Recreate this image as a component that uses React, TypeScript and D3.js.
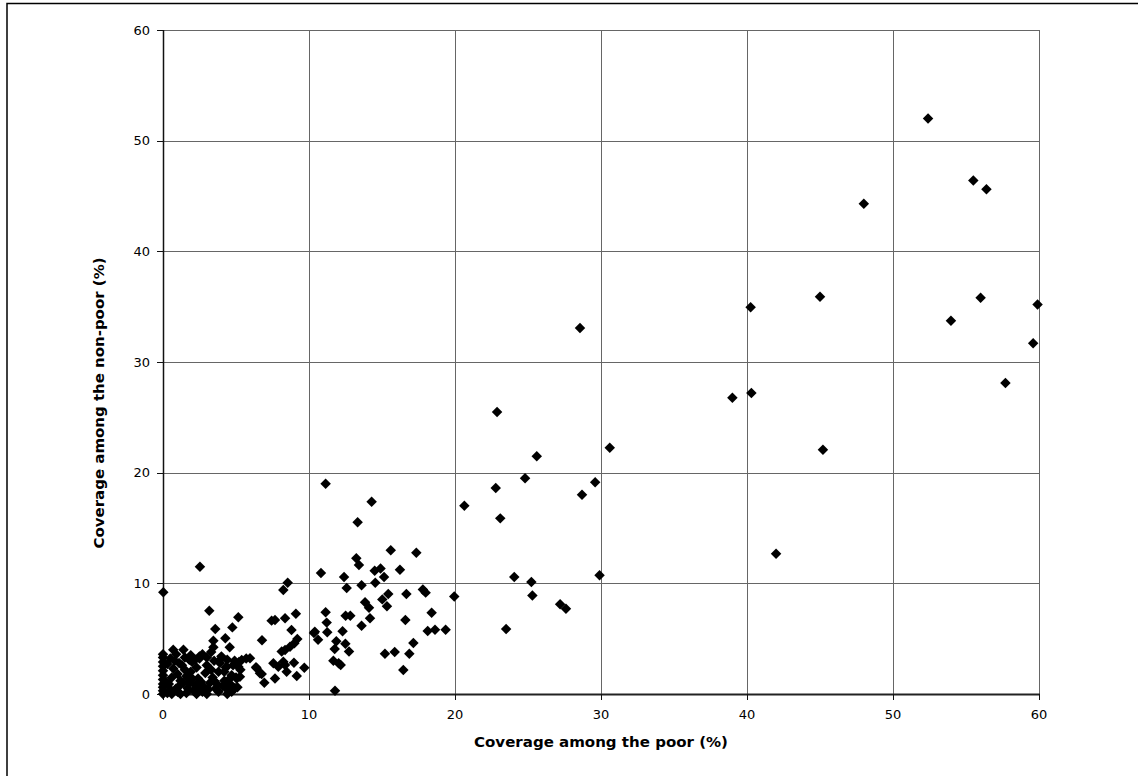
import React from "react";
import * as d3 from "d3";

const xTicks = [0, 10, 20, 30, 40, 50, 60];
const yTicks = [0, 10, 20, 30, 40, 50, 60];

// Coverage among the poor (%)
const poor = [
  52.4, 55.5, 56.4, 48.0, 45.0, 40.25, 56.0, 59.9, 53.97, 59.6, 57.7, 39.0, 40.3, 45.2,
  28.56, 30.6, 29.6, 28.7, 41.99, 29.9, 22.88, 25.6, 24.8, 22.79, 20.64, 23.1, 24.06, 25.23,
  25.3, 27.2, 27.6, 23.5, 19.95,
  11.14, 14.29, 13.33, 15.6, 17.35, 13.24, 13.42, 10.82, 14.9, 14.5, 16.23, 12.4, 15.14,
  12.58, 13.6, 14.54, 16.67, 17.8, 17.99, 15.43, 15.02, 15.34, 13.84, 14.11, 12.51, 12.83,
  11.14, 14.18, 13.6, 11.21, 11.25, 12.3, 10.34, 10.62, 11.87, 12.49, 11.76, 12.74, 11.67,
  12.03, 12.17, 16.6, 18.4, 18.13, 18.63, 19.36, 17.15, 16.87, 15.87, 15.2, 16.46, 11.78,
  10.4,
  8.54, 8.24, 9.1, 8.8, 9.2, 8.97, 9.68, 9.16, 2.53, 0.02, 3.17, 5.16, 3.58, 4.75, 3.45,
  4.27, 3.45, 4.57, 6.78, 7.44, 7.67, 8.36, 9.0, 8.7, 8.36, 8.13, 4.93, 5.39, 5.96, 5.16,
  6.42, 6.64, 6.94, 7.67, 7.56, 7.9, 8.24, 8.47, 8.36, 4.93, 5.05, 6.37, 6.76, 4.25, 5.7,
  4.36, 5.27, 4.59,
  0, 0, 0, 0, 0, 0, 0, 0, 0, 0, 0,
  0.3, 0.5, 0.4, 0.6, 0.7, 0.8, 0.7, 0.9, 1.0, 1.1, 1.2, 1.0, 1.3, 1.5, 1.6, 1.7, 1.8, 1.6,
  1.9, 2.0, 2.1, 2.2, 2.4, 2.3, 2.5, 2.7, 2.8, 2.6, 2.9, 3.0, 3.1, 3.2, 3.4, 3.3, 3.5, 3.6,
  3.7, 3.8, 3.9, 4.0, 4.1, 4.2, 4.3, 4.4, 4.5, 4.6, 4.7, 4.8, 4.9, 5.0, 5.2, 5.3, 1.4, 1.9,
  2.7, 3.3, 0.2, 0.3, 1.5, 2.0, 2.3, 1.2, 0.6, 3.0, 3.8, 4.4, 4.8, 5.1, 0.9, 1.4, 2.5, 3.5,
  4.2, 3.0, 2.2, 1.1, 1.8, 0.5, 2.5, 4.0, 4.7,
];

// Coverage among the non-poor (%)
const nonPoor = [
  52.0, 46.4, 45.6, 44.3, 35.9, 34.94, 35.8, 35.2, 33.73, 31.7, 28.1, 26.77, 27.2, 22.08,
  33.07, 22.26, 19.13, 18.0, 12.68, 10.72, 25.48, 21.48, 19.49, 18.61, 17.02, 15.87, 10.57, 10.12,
  8.9, 8.1, 7.7, 5.87, 8.82,
  19.0, 17.38, 15.51, 12.98, 12.77, 12.26, 11.66, 10.93, 11.35, 11.14, 11.23, 10.57, 10.57,
  9.58, 9.82, 10.06, 9.04, 9.45, 9.16, 9.04, 8.55, 7.92, 8.28, 7.8, 7.08, 7.08,
  7.38, 6.84, 6.17, 6.45, 5.57, 5.66, 5.51, 4.91, 4.76, 4.55, 4.07, 3.83, 3.01,
  2.77, 2.62, 6.69, 7.35, 5.69, 5.81, 5.81, 4.6, 3.64, 3.79, 3.64, 2.17, 0.3,
  5.63,
  10.06, 9.4, 7.26, 5.78, 4.97, 2.83, 2.38, 1.63, 11.5, 9.19, 7.53, 6.93, 5.87, 6.02, 4.82,
  5.03, 4.22, 4.22, 4.85, 6.63, 6.69, 6.84, 4.58, 4.27, 3.98, 3.83, 2.92, 3.07, 3.22, 2.47,
  2.32, 1.87, 1.02, 1.41, 2.77, 2.47, 2.92, 2.02, 2.62, 0.54, 1.41, 2.41, 1.81, 0.66, 3.2,
  2.47, 1.56, 1.41,
  0, 0.3, 0.6, 0.9, 1.3, 1.7, 2.1, 2.5, 2.9, 3.3, 3.6,
  0.1, 0.4, 0.9, 1.5, 2.3, 3.0, 4.0, 3.6, 0.2, 0.7, 1.2, 1.8, 2.6, 3.3, 0.1, 0.5, 1.0, 1.6,
  2.0, 2.9, 0.3, 0.8, 1.4, 2.4, 3.2, 0.2, 0.6, 1.1, 1.9, 2.6, 0.4, 1.0, 1.5, 2.2, 3.0, 0.5,
  0.9, 2.0, 2.8, 3.4, 0.7, 1.2, 2.4, 3.1, 0.3, 0.9, 1.7, 2.6, 3.0, 1.5, 2.9, 2.2, 4.0, 3.5,
  3.6, 3.8, 1.1, 2.7, 2.2, 1.4, 0.0, 0.0, 0.0, 0.0, 0.2, 0.0, 0.4, 0.6, 0.5, 1.0, 0.5, 1.2,
  2.0, 3.3, 3.1, 2.8, 3.1, 3.2, 3.4, 3.2, 0.2,
];

const W = 1138;
const H = 776;
const FONT = "'DejaVu Sans', Verdana, sans-serif";

export default function App() {
  const x = d3.scaleLinear().domain([0, 60]).range([163, 1039]);
  const y = d3.scaleLinear().domain([0, 60]).range([694, 30]);
  const diamond = d3.symbol().type(d3.symbolSquare).size(55)();
  const n = Math.min(poor.length, nonPoor.length);
  const pts = d3.range(n).map((i) => [poor[i], nonPoor[i]]);

  return (
    <svg
      width={W}
      height={H}
      style={{ position: "absolute", left: 0, top: 0, background: "#fff" }}
    >
      <rect x={0} y={0} width={W} height={H} fill="#fff" />
      <rect x={7} y={3.5} width={W + 10} height={H + 10} fill="none" stroke="#000" strokeWidth={1.5} />
      {/* gridlines */}
      {yTicks.filter((t) => t > 0).map((t) => (
        <line key={"gy" + t} x1={x(0)} x2={x(60)} y1={Math.round(y(t)) + 0.5} y2={Math.round(y(t)) + 0.5} stroke="#666" strokeWidth={1} />
      ))}
      {xTicks.filter((t) => t > 0).map((t) => (
        <line key={"gx" + t} y1={y(0)} y2={y(60)} x1={Math.round(x(t)) + 0.5} x2={Math.round(x(t)) + 0.5} stroke="#666" strokeWidth={1} />
      ))}
      {/* axes */}
      <line x1={x(0) + 0.5} x2={x(0) + 0.5} y1={y(60)} y2={y(0)} stroke="#111" strokeWidth={1.5} />
      <line x1={x(0)} x2={x(60) + 1} y1={y(0) + 0.5} y2={y(0) + 0.5} stroke="#222" strokeWidth={2} />
      {yTicks.map((t) => (
        <g key={"yt" + t}>
          <line x1={x(0) - 6} x2={x(0)} y1={Math.round(y(t)) + 0.5} y2={Math.round(y(t)) + 0.5} stroke="#111" strokeWidth={1} />
          <text x={x(0) - 13} y={y(t)} dy="0.35em" textAnchor="end" fontFamily={FONT} fontSize={13} fill="#000">
            {t}
          </text>
        </g>
      ))}
      {xTicks.map((t) => (
        <g key={"xt" + t}>
          <line x1={Math.round(x(t)) + 0.5} x2={Math.round(x(t)) + 0.5} y1={y(0)} y2={y(0) + 6} stroke="#111" strokeWidth={1} />
          <text x={x(t)} y={714} dy="0.35em" textAnchor="middle" fontFamily={FONT} fontSize={13} fill="#000">
            {t}
          </text>
        </g>
      ))}
      {/* points */}
      {pts.map((p, i) => (
        <path key={"p" + i} d={diamond} transform={`translate(${x(p[0])},${y(p[1])}) rotate(45)`} fill="#000" />
      ))}
      {/* titles */}
      <text x={(x(0) + x(60)) / 2} y={742} dy="0.35em" textAnchor="middle" fontFamily={FONT} fontWeight="bold" fontSize={14} textLength={254} lengthAdjust="spacingAndGlyphs" fill="#000">
        Coverage among the poor (%)
      </text>
      <text transform={`translate(99,403) rotate(-90)`} dy="0.35em" textAnchor="middle" fontFamily={FONT} fontWeight="bold" fontSize={14} textLength={291} lengthAdjust="spacingAndGlyphs" fill="#000">
        Coverage among the non-poor (%)
      </text>
    </svg>
  );
}
